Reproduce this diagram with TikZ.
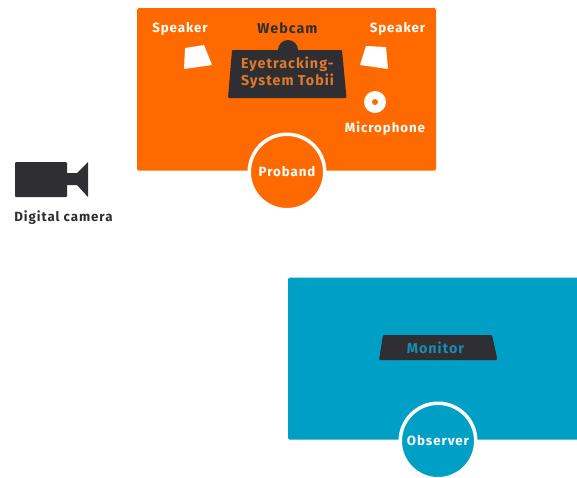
\documentclass[tikz,border=0pt]{standalone}
\usepackage{fontspec}
\setmainfont{Fira Sans}[LetterSpace=7,BoldFont={Fira Sans Bold}]
\definecolor{orangeC}{HTML}{FF6A00}
\definecolor{blueC}{HTML}{00A0C6}
\definecolor{darkC}{HTML}{2F2F33}
\definecolor{tobiiC}{HTML}{DE7A2C}
\definecolor{monC}{HTML}{1A8DAE}
\tikzset{
  lbl/.style={font=\bfseries\fontsize{13.3}{16.5}\selectfont,align=center,inner sep=0pt},
  lblbig/.style={font=\bfseries\fontsize{14.3}{17}\selectfont,align=center,inner sep=0pt},
  room/.style={rounded corners=1.5pt},
  person/.style={circle,draw=white,line width=3.5pt,minimum size=75.5pt,inner sep=0pt},
  device/.style={fill=darkC,rounded corners=1pt},
  spk/.style={fill=white,rounded corners=0.7pt}
}
\begin{document}
\begin{tikzpicture}[x=1pt,y=-1pt]
\useasboundingbox (0,0) rectangle (577,477);
% Rooms
\fill[orangeC,room] (137,8) rectangle (436,170.5);
\fill[blueC,room] (288,277.5) rectangle (590,439.5);
% Eyetracker with webcam bump
\fill[darkC] (288,50) circle (10);
\fill[device] (232,50) -- (342,50) -- (346.5,98) -- (228,98) -- cycle;
% Speakers
\fill[spk] (185,48) -- (204,45) -- (212,65) -- (184,69) -- cycle;
\fill[spk] (366,46) -- (386,47) -- (388,69) -- (360,65) -- cycle;
% Microphone
\fill[white] (375,102) circle (11);
\fill[orangeC] (375,102) circle (3);
% Persons
\node[person,fill=orangeC,text=white,lbl] (proband) at (287,172) {Proband};
\node[person,fill=blueC,text=white,lbl] (observer) at (438,441) {Observer};
% Monitor
\fill[device] (383,335) -- (492,335) -- (497.5,360) -- (379,360) -- cycle;
% Camera
\fill[device] (15,162) rectangle (67,197);
\fill[darkC] (66,173) -- (77,173) -- (88,162) -- (88,197) -- (77,185) -- (66,185) -- cycle;
% Labels
\node[lbl,text=white] (spkL) at (180,28.5) {Speaker};
\node[lblbig,text=darkC] (webcam) at (287.5,28.5) {Webcam};
\node[lbl,text=white] (spkR) at (397.5,28.5) {Speaker};
\node[lblbig,text=tobiiC] (tobii) at (287.5,73) {Eyetracking-\\System Tobii};
\node[lbl,text=white] (mic) at (385,128.5) {Microphone};
\node[lbl,text=darkC] (dc) at (63.5,217.5) {Digital camera};
\node[lblbig,text=monC] (monitor) at (435.5,348) {Monitor};
\end{tikzpicture}
\end{document}
